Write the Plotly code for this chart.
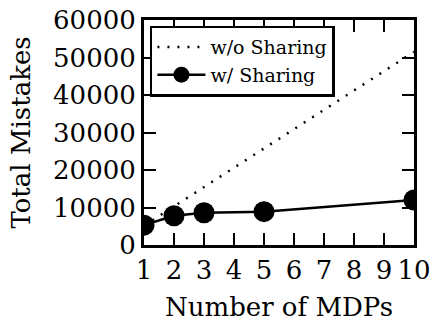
import plotly.graph_objects as go

mdps = [1, 2, 3, 5, 10]
without_sharing = [5150, 10300, 15450, 25750, 51500]
with_sharing = [5300, 7800, 8600, 8900, 12000]
x_ticks = [1, 2, 3, 4, 5, 6, 7, 8, 9, 10]
y_ticks = [0, 10000, 20000, 30000, 40000, 50000, 60000]

FONT = "DejaVu Serif"

fig = go.Figure()
fig.add_trace(go.Scatter(
    x=mdps, y=without_sharing, mode="lines", name="w/o Sharing",
    line=dict(color="black", width=2.5, dash="2px,8px"),
))
fig.add_trace(go.Scatter(
    x=mdps, y=with_sharing, mode="lines+markers", name="w/ Sharing",
    line=dict(color="black", width=2.5),
    marker=dict(color="black", size=21, symbol="circle"),
))

axis_common = dict(
    showgrid=False, zeroline=False, showline=True, linecolor="black", linewidth=3,
    mirror="allticks", ticks="inside", ticklen=12, tickwidth=1.5, tickcolor="black",
    tickfont=dict(family=FONT, size=26, color="black"), automargin=False,
    ticklabeloverflow="allow",
)
fig.update_xaxes(range=[1, 10], tickvals=x_ticks, ticktext=[str(v) for v in x_ticks],
                 title=dict(text="Number of MDPs", font=dict(family=FONT, size=26, color="black"), standoff=14),
                 **axis_common)
fig.update_yaxes(range=[0, 60000], tickvals=y_ticks, ticktext=[str(v) for v in y_ticks],
                 title=dict(text="Total Mistakes", font=dict(family=FONT, size=26, color="black"), standoff=15),
                 **axis_common)

fig.update_layout(
    width=432, height=323,
    margin=dict(l=144, r=18, t=20, b=78),
    paper_bgcolor="white", plot_bgcolor="white",
    showlegend=True,
    legend=dict(x=0.022, y=0.975, xanchor="left", yanchor="top",
                bgcolor="white", bordercolor="black", borderwidth=2.5,
                font=dict(family=FONT, size=19, color="black"),
                itemwidth=48, tracegroupgap=0),
)
# remove the page's default 8px body margin so the figure fills the window
fig.write_html("out.html", config={"displayModeBar": False},
               post_script="document.body.style.margin='0';")
